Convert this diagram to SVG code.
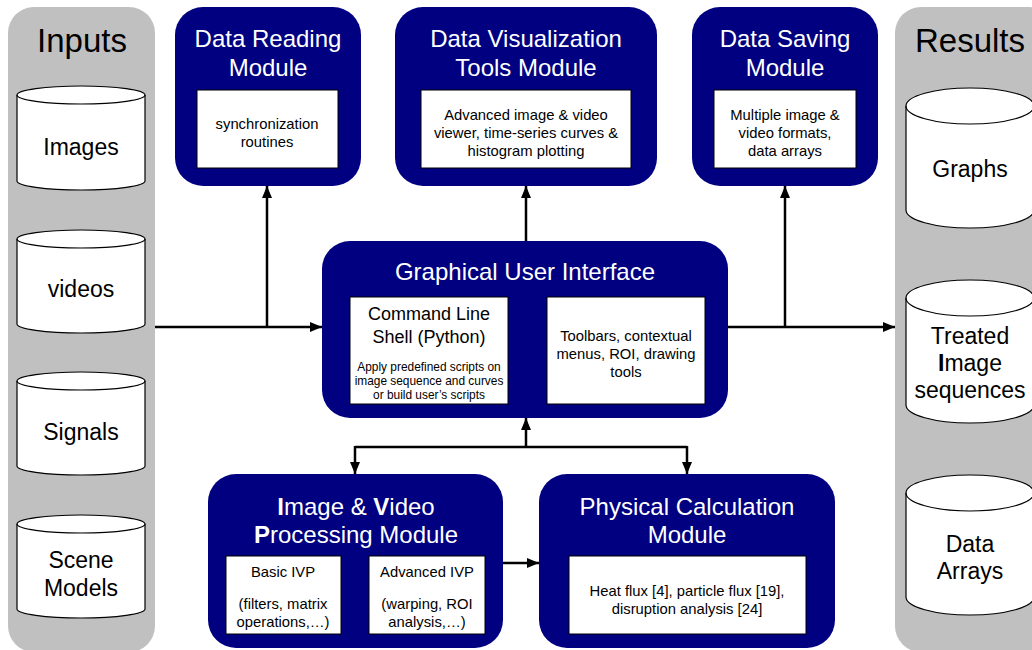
<svg xmlns="http://www.w3.org/2000/svg" width="1032" height="650" viewBox="0 0 1032 650">
  <style>
    text { font-family: "Liberation Sans", Arial, sans-serif; text-anchor: middle; }
    .panel { fill: #c0c0c0; }
    .module { fill: #000080; }
    .inner { fill: #ffffff; stroke: #000000; stroke-width: 1; }
    .cyl { fill: #ffffff; stroke: #000000; stroke-width: 1.2; }
    .cyl-rim { fill: none; stroke: #000000; stroke-width: 1.2; }
    .title { fill: #ffffff; font-size: 24px; }
    .panel-title { fill: #000000; font-size: 33px; }
    .cyl-text { fill: #000000; font-size: 23px; }
    .t14 { fill: #000000; font-size: 14.8px; }
    .t17 { fill: #000000; font-size: 18px; }
    .t11 { fill: #000000; font-size: 11.9px; }
    .wire { fill: none; stroke: #000000; stroke-width: 2.5; }
    .b { font-weight: bold; }
  </style>
  <defs>
    <marker id="arrow" viewBox="0 0 12 10" refX="12" refY="5" markerWidth="12" markerHeight="10" markerUnits="userSpaceOnUse" orient="auto">
      <path d="M0,0 L12,5 L0,10 Z" fill="#000000"/>
    </marker>
  </defs>

  <!-- Inputs column -->
  <g id="inputs">
    <rect class="panel" x="8" y="7" width="147" height="645" rx="26"/>
    <text class="panel-title" x="82" y="52">Inputs</text>
  </g>
  <g id="input-images">
    <path class="cyl" d="M17,95 A64,9 0 0,1 145,95 L145,181 A64,9 0 0,1 17,181 Z"/>
    <path class="cyl-rim" d="M17,95 A64,9 0 0,0 145,95"/>
    <text class="cyl-text" x="81" y="155">Images</text>
  </g>
  <g id="input-videos">
    <path class="cyl" d="M17,239 A64,9 0 0,1 145,239 L145,324 A64,9 0 0,1 17,324 Z"/>
    <path class="cyl-rim" d="M17,239 A64,9 0 0,0 145,239"/>
    <text class="cyl-text" x="81" y="297">videos</text>
  </g>
  <g id="input-signals">
    <path class="cyl" d="M17,381 A64,9 0 0,1 145,381 L145,466 A64,9 0 0,1 17,466 Z"/>
    <path class="cyl-rim" d="M17,381 A64,9 0 0,0 145,381"/>
    <text class="cyl-text" x="81" y="440">Signals</text>
  </g>
  <g id="input-scene-models">
    <path class="cyl" d="M17,524 A64,9 0 0,1 145,524 L145,609 A64,9 0 0,1 17,609 Z"/>
    <path class="cyl-rim" d="M17,524 A64,9 0 0,0 145,524"/>
    <text class="cyl-text" x="81" y="568">Scene</text>
    <text class="cyl-text" x="81" y="596">Models</text>
  </g>

  <!-- Results column -->
  <g id="results">
    <rect class="panel" x="895" y="7" width="160" height="645" rx="26"/>
    <text class="panel-title" x="970" y="52">Results</text>
  </g>
  <g id="result-graphs">
    <path class="cyl" d="M906,106 A64,18 0 0,1 1034,106 L1034,210 A64,18 0 0,1 906,210 Z"/>
    <path class="cyl-rim" d="M906,106 A64,18 0 0,0 1034,106"/>
    <text class="cyl-text" x="970" y="177">Graphs</text>
  </g>
  <g id="result-treated">
    <path class="cyl" d="M906,298 A64,18 0 0,1 1034,298 L1034,405 A64,18 0 0,1 906,405 Z"/>
    <path class="cyl-rim" d="M906,298 A64,18 0 0,0 1034,298"/>
    <text class="cyl-text" x="970" y="344">Treated</text>
    <text class="cyl-text" x="970" y="371"><tspan class="b">I</tspan>mage</text>
    <text class="cyl-text" x="970" y="398">sequences</text>
  </g>
  <g id="result-data-arrays">
    <path class="cyl" d="M906,493 A64,18 0 0,1 1034,493 L1034,597 A64,18 0 0,1 906,597 Z"/>
    <path class="cyl-rim" d="M906,493 A64,18 0 0,0 1034,493"/>
    <text class="cyl-text" x="970" y="552">Data</text>
    <text class="cyl-text" x="970" y="579">Arrays</text>
  </g>

  <!-- Top modules -->
  <g id="data-reading">
    <rect class="module" x="175" y="7" width="186" height="179" rx="28"/>
    <text class="title" x="268" y="47">Data Reading</text>
    <text class="title" x="268" y="76">Module</text>
    <rect class="inner" x="197" y="90" width="141" height="78"/>
    <text class="t14" x="267" y="129">synchronization</text>
    <text class="t14" x="267" y="147">routines</text>
  </g>
  <g id="data-visualization">
    <rect class="module" x="395" y="7" width="262" height="179" rx="28"/>
    <text class="title" x="526" y="47">Data Visualization</text>
    <text class="title" x="526" y="76">Tools Module</text>
    <rect class="inner" x="421" y="90" width="210" height="78"/>
    <text class="t14" x="526" y="120">Advanced image &amp; video</text>
    <text class="t14" x="526" y="138">viewer, time-series curves &amp;</text>
    <text class="t14" x="526" y="156">histogram plotting</text>
  </g>
  <g id="data-saving">
    <rect class="module" x="692" y="7" width="186" height="179" rx="28"/>
    <text class="title" x="785" y="47">Data Saving</text>
    <text class="title" x="785" y="76">Module</text>
    <rect class="inner" x="714" y="90" width="142" height="78"/>
    <text class="t14" x="785" y="120">Multiple image &amp;</text>
    <text class="t14" x="785" y="138">video formats,</text>
    <text class="t14" x="785" y="156">data arrays</text>
  </g>

  <!-- Central GUI -->
  <g id="gui">
    <rect class="module" x="322" y="241" width="406" height="177" rx="28"/>
    <text class="title" x="525" y="280">Graphical User Interface</text>
    <rect class="inner" x="350" y="297" width="158" height="107"/>
    <text class="t17" x="429" y="320">Command Line</text>
    <text class="t17" x="429" y="343">Shell (Python)</text>
    <text class="t11" x="429" y="371">Apply predefined scripts on</text>
    <text class="t11" x="429" y="385">image sequence and curves</text>
    <text class="t11" x="429" y="399">or build user’s scripts</text>
    <rect class="inner" x="547" y="297" width="158" height="107"/>
    <text class="t14" x="626" y="341">Toolbars, contextual</text>
    <text class="t14" x="626" y="359">menus, ROI, drawing</text>
    <text class="t14" x="626" y="377">tools</text>
  </g>

  <!-- Bottom modules -->
  <g id="image-video-processing">
    <rect class="module" x="208" y="474" width="295" height="174" rx="28"/>
    <text class="title" x="356" y="515"><tspan class="b">I</tspan>mage &amp; <tspan class="b">V</tspan>ideo</text>
    <text class="title" x="356" y="543"><tspan class="b">P</tspan>rocessing Module</text>
    <rect class="inner" x="226" y="556" width="115" height="78"/>
    <text class="t14" x="283" y="577">Basic IVP</text>
    <text class="t14" x="283" y="609">(filters, matrix</text>
    <text class="t14" x="283" y="627">operations,…)</text>
    <rect class="inner" x="369" y="556" width="116" height="78"/>
    <text class="t14" x="427" y="577">Advanced IVP</text>
    <text class="t14" x="427" y="609">(warping, ROI</text>
    <text class="t14" x="427" y="627">analysis,…)</text>
  </g>
  <g id="physical-calculation">
    <rect class="module" x="539" y="474" width="296" height="174" rx="28"/>
    <text class="title" x="687" y="515">Physical Calculation</text>
    <text class="title" x="687" y="543">Module</text>
    <rect class="inner" x="569" y="556" width="237" height="78"/>
    <text class="t14" x="687" y="596">Heat flux [4], particle flux [19],</text>
    <text class="t14" x="687" y="614">disruption analysis [24]</text>
  </g>

  <!-- Connectors -->
  <g id="connectors">
    <path class="wire" d="M155,327 L322,327" marker-end="url(#arrow)"/>
    <path class="wire" d="M267,327 L267,186" marker-end="url(#arrow)"/>
    <path class="wire" d="M526,241 L526,186" marker-end="url(#arrow)"/>
    <path class="wire" d="M728,327 L895,327" marker-end="url(#arrow)"/>
    <path class="wire" d="M785,327 L785,186" marker-end="url(#arrow)"/>
    <path class="wire" d="M526,447 L526,418" marker-end="url(#arrow)"/>
    <path class="wire" d="M355,447 L687,447"/>
    <path class="wire" d="M355,446 L355,474" marker-end="url(#arrow)"/>
    <path class="wire" d="M687,446 L687,474" marker-end="url(#arrow)"/>
    <path class="wire" d="M503,563 L539,563" marker-end="url(#arrow)"/>
  </g>
</svg>
